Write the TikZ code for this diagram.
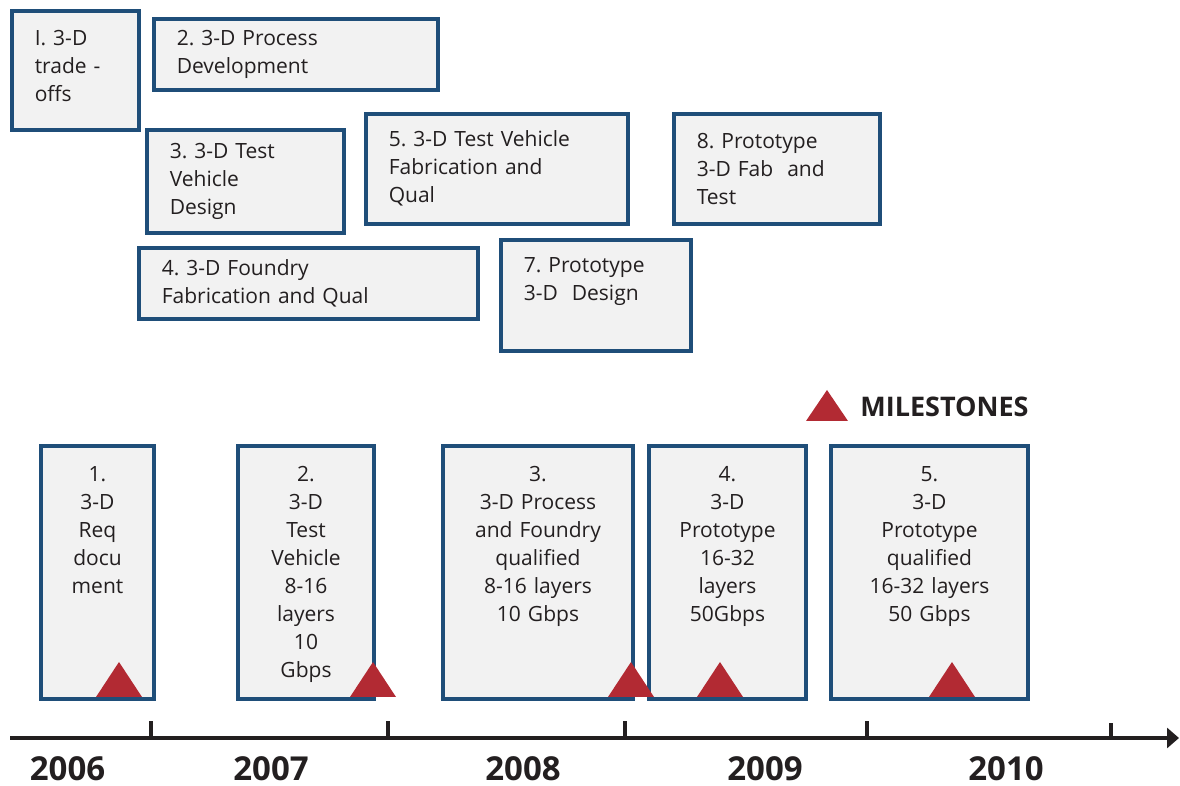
\documentclass[tikz,border=0pt]{standalone}
\usepackage{fontspec}
\setmainfont{Open Sans}
\usepackage{xcolor}
\usepackage{tikz}
\usetikzlibrary{arrows.meta, positioning}
\definecolor{planBlue}{RGB}{31,78,121}
\definecolor{planFill}{RGB}{242,242,242}
\definecolor{planRed}{RGB}{178,42,51}
\definecolor{planDark}{RGB}{35,31,32}
\frenchspacing

\begin{document}
\begin{tikzpicture}[x=0.5pt, y=-0.5pt,
task/.style={rectangle, draw=planBlue, line width=1.8pt, fill=planFill,
anchor=north west, align=left, inner xsep=11.5pt, inner ysep=0pt,
font=\fontsize{10.5}{14}\selectfont, text=planDark},
goal/.style={rectangle, draw=planBlue, line width=1.8pt, fill=planFill,
anchor=north, align=center, inner sep=0pt,
text height=17.75pt, text depth=108.75pt,
font=\fontsize{10.5}{14}\selectfont, text=planDark},
year/.style={font=\fontsize{16.5}{18}\selectfont\bfseries, text=planDark},
legendtext/.style={font=\fontsize{13.5}{16}\selectfont\bfseries, text=planDark,
inner sep=0pt, anchor=west},
axis/.style={line width=2pt, draw=planDark, -{Triangle[length=6pt,width=10pt]}},
yeartick/.style={line width=2.2pt, draw=planDark}]
\useasboundingbox (0,0) rectangle (1180,786);
% planned tasks
\node[task, text width=40.5pt, minimum height=59.5pt, text depth=32pt] (tradeoff) at (10,9)
    {I. 3-D\\trade -\\offs};
\node[task, text width=119pt, minimum height=35.5pt] (procdev) at (152,17)
    {2. 3-D Process\\Development};
\node[task, text width=75.5pt, minimum height=51.5pt] (tvdesign) at (145,128)
    {3. 3-D Test\\Vehicle\\Design};
\node[task, text width=146.5pt, minimum height=35.5pt] (foundry) at (137,246)
    {4. 3-D Foundry\\Fabrication and Qual};
\node[task, text width=108pt, minimum height=55pt] (tvfab) at (364,112)
    {5. 3-D Test Vehicle\\Fabrication and\\Qual};
\node[task, text width=72pt, minimum height=55.5pt, text depth=30pt] (protodes) at (499,238)
    {7. Prototype\\3-D~~Design};
\node[task, text width=80pt, minimum height=55pt] (protofab) at (672,112)
    {8. Prototype\\3-D Fab~~and\\Test};
% milestone boxes
\node[goal, text width=56.5pt] (ms1) at (97.5,444)
    {1.\\3-D\\Req\\docu\\ment};
\node[goal, text width=68pt] (ms2) at (306,444)
    {2.\\3-D\\Test\\Vehicle\\8-16\\layers\\10\\Gbps};
\node[goal, text width=95pt] (ms3) at (538,444)
    {3.\\3-D Process\\and Foundry\\qualified\\8-16 layers\\10 Gbps};
\node[goal, text width=78.5pt] (ms4) at (727.5,444)
    {4.\\3-D\\Prototype\\16-32\\layers\\50Gbps};
\node[goal, text width=98.5pt] (ms5) at (929.5,444)
    {5.\\3-D\\Prototype\\qualified\\16-32 layers\\50 Gbps};
% milestone markers
\fill[planRed] (96,697) -- (119,662) -- (142,697) -- cycle;
\fill[planRed] (350,697) -- (373,662) -- (396,697) -- cycle;
\fill[planRed] (608,697) -- (631,662) -- (654,697) -- cycle;
\fill[planRed] (697,697) -- (720,662) -- (743,697) -- cycle;
\fill[planRed] (929,697) -- (952,662) -- (975,697) -- cycle;
% legend
\fill[planRed] (806,421) -- (827,390) -- (848,421) -- cycle;
\node[legendtext] (legend) at (860,407) {MILESTONES};
% time axis
\coordinate (tstart) at (10,738);
\coordinate (tend) at (1179,738);
\draw[axis] (tstart) -- (tend);
\draw[yeartick] (151,721) -- (151,738);
\draw[yeartick] (388,721) -- (388,738);
\draw[yeartick] (625,721) -- (625,738);
\draw[yeartick] (867,721) -- (867,738);
\draw[yeartick] (1111,723) -- (1111,738);
\node[year] (y2006) at (67.5,769) {2006};
\node[year] (y2007) at (271,769) {2007};
\node[year] (y2008) at (523,769) {2008};
\node[year] (y2009) at (765,769) {2009};
\node[year] (y2010) at (1006,769) {2010};
\end{tikzpicture}
\end{document}
